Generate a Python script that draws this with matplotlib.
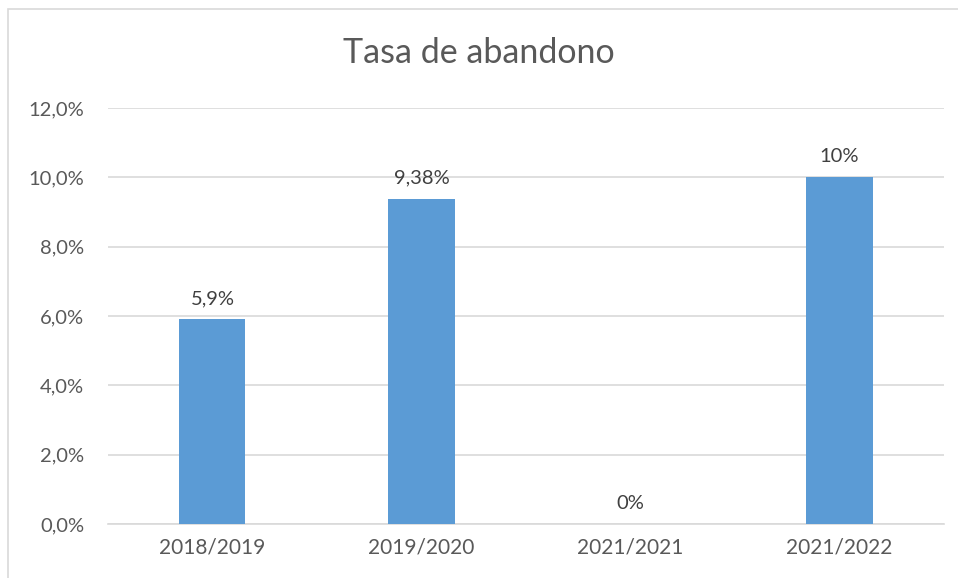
import matplotlib.pyplot as plt
from matplotlib.patches import Rectangle
from matplotlib.ticker import FuncFormatter

plt.rcParams['font.family'] = ['Lato', 'DejaVu Sans']

periodos = ['2018/2019', '2019/2020', '2021/2021', '2021/2022']
tasas = [5.9, 9.38, 0.0, 10.0]
etiquetas = ['5,9%', '9,38%', '0%', '10%']

gris = '#595959'

fig = plt.figure(figsize=(9.58, 5.78), dpi=100)
ax = fig.add_axes([0.1127, 0.0934, 0.8727, 0.7197])

x = range(len(periodos))
bars = ax.bar(x, tasas, width=0.316, color='#5B9BD5', zorder=3)

for b, t in zip(bars, etiquetas):
    ax.annotate(t, (b.get_x() + b.get_width() / 2, b.get_height()),
                xytext=(0, 9), textcoords='offset points',
                ha='center', va='bottom', fontsize=14.5, color='#404040')

ax.set_ylim(0, 12)
ax.set_xlim(-0.5, 3.5)
ax.set_yticks([0, 2, 4, 6, 8, 10, 12])
ax.yaxis.set_major_formatter(FuncFormatter(lambda v, p: f'{v:.1f}%'.replace('.', ',')))
ax.set_xticks(list(x))
ax.set_xticklabels(periodos)
ax.tick_params(axis='y', length=0, labelsize=14.5, colors=gris, pad=17)
ax.tick_params(axis='x', length=0, labelsize=15, colors=gris, pad=10)
ax.grid(axis='y', color='#D9D9D9', linewidth=1.2, zorder=0)
for s in ['top', 'right', 'left']:
    ax.spines[s].set_visible(False)
ax.spines['bottom'].set_color('#D9D9D9')
ax.spines['bottom'].set_linewidth(1.2)

fig.text(0.5, 0.908, 'Tasa de abandono', ha='center', va='center',
         fontsize=24.5, color=gris)

# marco del gráfico
fig.patches.append(Rectangle((8 / 958, -0.1), 1.2, 1.1 - 9 / 578,
                             transform=fig.transFigure, fill=False,
                             edgecolor='#D9D9D9', linewidth=1.2))

fig.savefig('out.png', dpi=100)
